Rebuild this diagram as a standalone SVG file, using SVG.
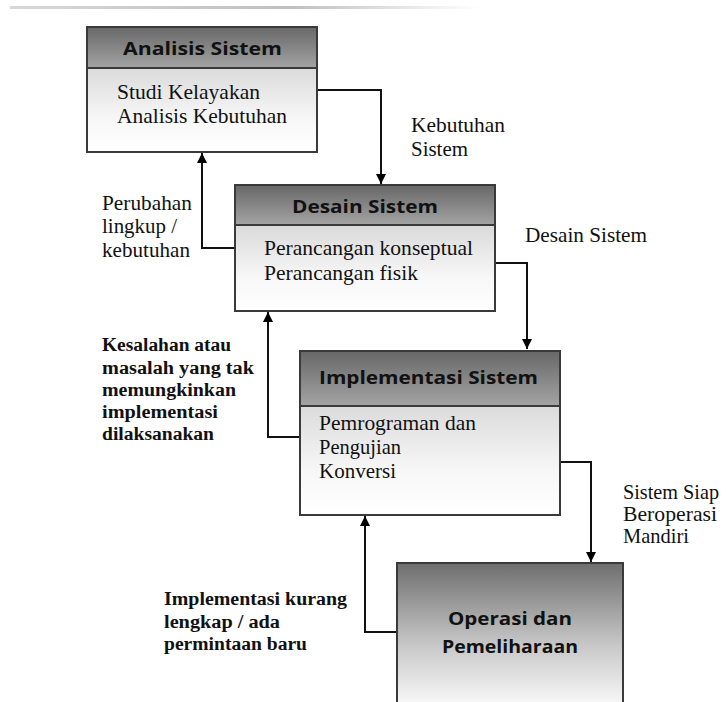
<svg xmlns="http://www.w3.org/2000/svg" width="726" height="702" viewBox="0 0 726 702">
<defs>
<linearGradient id="hdr" x1="0" y1="0" x2="0" y2="1">
<stop offset="0" stop-color="#676767"/>
<stop offset="1" stop-color="#a4a4a4"/>
</linearGradient>
<linearGradient id="body" x1="0" y1="0" x2="0" y2="1">
<stop offset="0" stop-color="#c4c4c4"/>
<stop offset="0.75" stop-color="#f8f8f8"/>
<stop offset="1" stop-color="#ffffff"/>
</linearGradient>
<linearGradient id="big" x1="0" y1="0" x2="0" y2="1">
<stop offset="0" stop-color="#6e6e6e"/>
<stop offset="0.55" stop-color="#c8c8c8"/>
<stop offset="1" stop-color="#ffffff"/>
</linearGradient>
<linearGradient id="topline" x1="0" y1="0" x2="1" y2="0">
<stop offset="0" stop-color="#d8d8d8"/>
<stop offset="0.6" stop-color="#c0c0c0"/>
<stop offset="1" stop-color="#ffffff"/>
</linearGradient>
<marker id="ah" viewBox="0 0 10 10" refX="10" refY="5" markerWidth="10" markerHeight="10" markerUnits="userSpaceOnUse" orient="auto">
<path d="M0,0 L10,5 L0,10 z" fill="#000"/>
</marker>
</defs>
<style>
.box{stroke:#3a3a3a;stroke-width:2}
.hd{font-family:"Open Sans","DejaVu Sans",sans-serif;font-weight:bold;font-size:18px;fill:#111;text-anchor:middle}
.bt{font-family:"Liberation Serif","Times New Roman",serif;font-size:21px;fill:#111}
.lb{font-family:"Liberation Serif","Times New Roman",serif;font-size:21px;fill:#111}
.lbb{font-family:"Liberation Serif","Times New Roman",serif;font-size:18px;font-weight:bold;fill:#111}
.cn{fill:none;stroke:#111;stroke-width:2}
</style>
<rect x="0" y="0" width="726" height="702" fill="#ffffff"/>
<rect x="10" y="6" width="470" height="3" fill="url(#topline)"/>

<g id="connectors">
<polyline class="cn" points="317,90 381,90 381,184" marker-end="url(#ah)"/>
<polyline class="cn" points="235,248 202,248 202,153" marker-end="url(#ah)"/>
<polyline class="cn" points="495,263 527,263 527,349" marker-end="url(#ah)"/>
<polyline class="cn" points="300,437 268,437 268,312" marker-end="url(#ah)"/>
<polyline class="cn" points="560,462 591,462 591,562" marker-end="url(#ah)"/>
<polyline class="cn" points="396,632 365,632 365,516" marker-end="url(#ah)"/>
</g>

<g id="analisis">
<rect class="box" x="87" y="27" width="230" height="125" fill="url(#body)"/>
<rect class="box" x="87" y="27" width="230" height="41" fill="url(#hdr)"/>
<text class="hd" x="202.5" y="55" textLength="159" lengthAdjust="spacingAndGlyphs">Analisis Sistem</text>
<text class="bt" x="117" y="99" textLength="143" lengthAdjust="spacingAndGlyphs">Studi Kelayakan</text>
<text class="bt" x="117" y="123" textLength="170" lengthAdjust="spacingAndGlyphs">Analisis Kebutuhan</text>
</g>

<g id="desain">
<rect class="box" x="235" y="185" width="260" height="126" fill="url(#body)"/>
<rect class="box" x="235" y="185" width="260" height="40" fill="url(#hdr)"/>
<text class="hd" x="365" y="213" textLength="146" lengthAdjust="spacingAndGlyphs">Desain Sistem</text>
<text class="bt" x="264" y="255" textLength="209" lengthAdjust="spacingAndGlyphs">Perancangan konseptual</text>
<text class="bt" x="264" y="280" textLength="154" lengthAdjust="spacingAndGlyphs">Perancangan fisik</text>
</g>

<g id="implementasi">
<rect class="box" x="300" y="351" width="260" height="164" fill="url(#body)"/>
<rect class="box" x="300" y="351" width="260" height="55" fill="url(#hdr)"/>
<text class="hd" x="428.5" y="384" textLength="219" lengthAdjust="spacingAndGlyphs">Implementasi Sistem</text>
<text class="bt" x="319" y="430" textLength="157" lengthAdjust="spacingAndGlyphs">Pemrograman dan</text>
<text class="bt" x="319" y="454" textLength="82" lengthAdjust="spacingAndGlyphs">Pengujian</text>
<text class="bt" x="319" y="478" textLength="77" lengthAdjust="spacingAndGlyphs">Konversi</text>
</g>

<g id="operasi">
<rect class="box" x="397" y="563" width="226" height="150" fill="url(#big)"/>
<text class="hd" x="510" y="625" textLength="124" lengthAdjust="spacingAndGlyphs">Operasi dan</text>
<text class="hd" x="510" y="653" textLength="136" lengthAdjust="spacingAndGlyphs">Pemeliharaan</text>
</g>

<g id="labels">
<text class="lb" x="411" y="132" textLength="94" lengthAdjust="spacingAndGlyphs">Kebutuhan</text>
<text class="lb" x="411" y="156" textLength="57" lengthAdjust="spacingAndGlyphs">Sistem</text>
<text class="lb" x="102" y="210" textLength="90" lengthAdjust="spacingAndGlyphs">Perubahan</text>
<text class="lb" x="102" y="233" textLength="75" lengthAdjust="spacingAndGlyphs">lingkup /</text>
<text class="lb" x="102" y="257" textLength="88" lengthAdjust="spacingAndGlyphs">kebutuhan</text>
<text class="lb" x="525" y="242" textLength="122" lengthAdjust="spacingAndGlyphs">Desain Sistem</text>
<text class="lbb" x="102" y="351" textLength="129" lengthAdjust="spacingAndGlyphs">Kesalahan atau</text>
<text class="lbb" x="102" y="374" textLength="152" lengthAdjust="spacingAndGlyphs">masalah yang tak</text>
<text class="lbb" x="102" y="396" textLength="134" lengthAdjust="spacingAndGlyphs">memungkinkan</text>
<text class="lbb" x="102" y="418" textLength="116" lengthAdjust="spacingAndGlyphs">implementasi</text>
<text class="lbb" x="102" y="440" textLength="112" lengthAdjust="spacingAndGlyphs">dilaksanakan</text>
<text class="lb" x="623" y="499" textLength="96" lengthAdjust="spacingAndGlyphs">Sistem Siap</text>
<text class="lb" x="623" y="521" textLength="94" lengthAdjust="spacingAndGlyphs">Beroperasi</text>
<text class="lb" x="623" y="543" textLength="66" lengthAdjust="spacingAndGlyphs">Mandiri</text>
<text class="lbb" x="164" y="605" textLength="183" lengthAdjust="spacingAndGlyphs">Implementasi kurang</text>
<text class="lbb" x="164" y="628" textLength="116" lengthAdjust="spacingAndGlyphs">lengkap / ada</text>
<text class="lbb" x="164" y="650" textLength="143" lengthAdjust="spacingAndGlyphs">permintaan baru</text>
</g>
</svg>
